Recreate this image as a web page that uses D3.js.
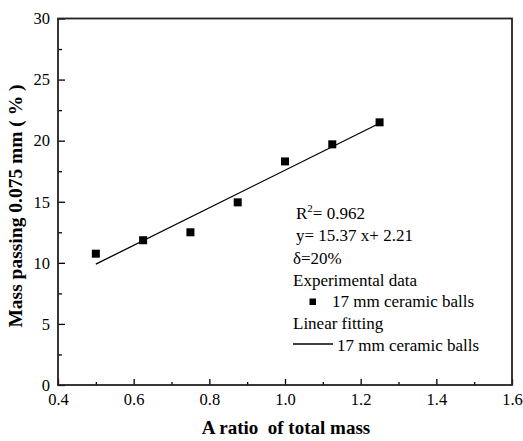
<!DOCTYPE html>
<html>
<head>
<meta charset="utf-8">
<script src="https://cdn.jsdelivr.net/npm/d3@7"></script>
<style>
  body { margin: 0; background: #fff; }
  svg { display: block; }
  .axis line { stroke: #000; stroke-width: 1.3; }
  .axis path { display: none; }
</style>
</head>
<body>
<svg id="chart" width="523" height="441"></svg>
<script>
// data
var ratios = [0.5, 0.625, 0.75, 0.875, 1.0, 1.125, 1.25];
var massPassing = [10.75, 11.85, 12.5, 14.95, 18.3, 19.7, 21.5];
var fitSlope = 15.37, fitIntercept = 2.21;
var fitRange = [0.5, 1.25];
var xTicks = [0.4, 0.6, 0.8, 1.0, 1.2, 1.4, 1.6];
var yTicks = [0, 5, 10, 15, 20, 25, 30];
var legendLines = ["y= 15.37 x+ 2.21", "\u03B4=20%", "Experimental data", "17 mm ceramic balls", "Linear fitting", "17 mm ceramic balls"];

var serif = "'Liberation Serif', 'Times New Roman', Times, serif";

var svg = d3.select("#chart");
var margin = { top: 18.5, right: 11, bottom: 56, left: 58 },
    width = 523 - margin.left - margin.right,
    height = 441 - margin.top - margin.bottom;

var xScale = d3.scaleLinear().domain([0.4, 1.6]).range([0, width]);
var yScale = d3.scaleLinear().domain([0, 30]).range([height, 0]);

var g = svg.append("g").attr("transform", `translate(${margin.left},${margin.top})`);

// minor ticks first
g.append("g")
    .attr("class", "axis")
    .attr("transform", "translate(0," + height + ")")
    .call(d3.axisBottom(xScale).tickValues(d3.range(0.5, 1.6, 0.2)).tickSize(-3).tickFormat(""));
g.append("g")
    .attr("class", "axis")
    .call(d3.axisLeft(yScale).tickValues(d3.range(2.5, 30, 5)).tickSize(-4).tickFormat(""));

// major ticks
var xAx = g.append("g")
    .attr("class", "axis")
    .attr("transform", "translate(0," + height + ")")
    .call(d3.axisBottom(xScale).tickValues(xTicks).tickSize(-6).tickSizeOuter(0).tickPadding(8).tickFormat(d3.format(".1f")));
var yAx = g.append("g")
    .attr("class", "axis")
    .call(d3.axisLeft(yScale).tickValues(yTicks).tickSize(-7).tickSizeOuter(0).tickPadding(8).tickFormat(d3.format("d")));
[xAx, yAx].forEach(a => a.attr("font-family", serif).attr("font-size", null)
    .selectAll("text").style("font-family", serif).style("font-size", "16.5px").attr("fill", "#000"));

// frame
g.append("rect")
    .attr("width", width)
    .attr("height", height)
    .attr("fill", "none")
    .attr("stroke", "#222")
    .attr("stroke-width", 1.8);

// axis titles
g.append("text")
    .attr("x", width / 2 + 1)
    .attr("y", height + 49)
    .style("text-anchor", "middle")
    .style("font-family", serif)
    .style("font-weight", "bold")
    .style("font-size", "19px")
    .style("white-space", "pre")
    .text("A ratio  of total mass");
g.append("text")
    .attr("transform", "rotate(-90)")
    .attr("x", -(206 - margin.top))
    .attr("y", 22 - margin.left)
    .style("text-anchor", "middle")
    .style("font-family", serif)
    .style("font-weight", "bold")
    .style("font-size", "19.5px")
    .style("white-space", "pre")
    .text("Mass passing 0.075 mm ( % )");

// fit line
var fitData = fitRange.map(x => ({ x: x, y: fitSlope * x + fitIntercept }));
var line = d3.line().x(d => xScale(d.x)).y(d => yScale(d.y));
g.append("path")
    .datum(fitData)
    .attr("d", line)
    .attr("fill", "none")
    .attr("stroke", "#000")
    .attr("stroke-width", 1.3);

// points
var s = 8;
g.selectAll(".pt")
    .data(ratios)
    .enter()
    .append("rect")
    .attr("class", "pt")
    .attr("x", d => xScale(d) - s / 2)
    .attr("y", (d, i) => yScale(massPassing[i]) - s / 2)
    .attr("width", s)
    .attr("height", s)
    .attr("fill", "#000");

// legend / annotation
var leg = svg.append("g");
var r2 = leg.append("text").attr("x", 296).attr("y", 218.5)
    .style("font-family", serif).style("font-size", "17px");
r2.append("tspan").text("R");
r2.append("tspan").attr("dy", -7).style("font-size", "11px").text("2");
r2.append("tspan").attr("dy", 7).text("= 0.962");

var rows = [
    { x: 296, y: 241 },
    { x: 293, y: 263.5 },
    { x: 293, y: 285.5 },
    { x: 332, y: 307 },
    { x: 293, y: 329 },
    { x: 337, y: 350.5 }
];
leg.selectAll(".row")
    .data(legendLines)
    .enter()
    .append("text")
    .attr("class", "row")
    .attr("x", (d, i) => rows[i].x)
    .attr("y", (d, i) => rows[i].y)
    .style("font-family", serif)
    .style("font-size", "17px")
    .text(d => d);

leg.append("rect")
    .attr("x", 309.5).attr("y", 298.5)
    .attr("width", 6.5).attr("height", 6.5)
    .attr("fill", "#000");
leg.append("line")
    .attr("x1", 293).attr("x2", 333)
    .attr("y1", 344).attr("y2", 344)
    .attr("stroke", "#000")
    .attr("stroke-width", 1.3);
</script>
</body>
</html>
